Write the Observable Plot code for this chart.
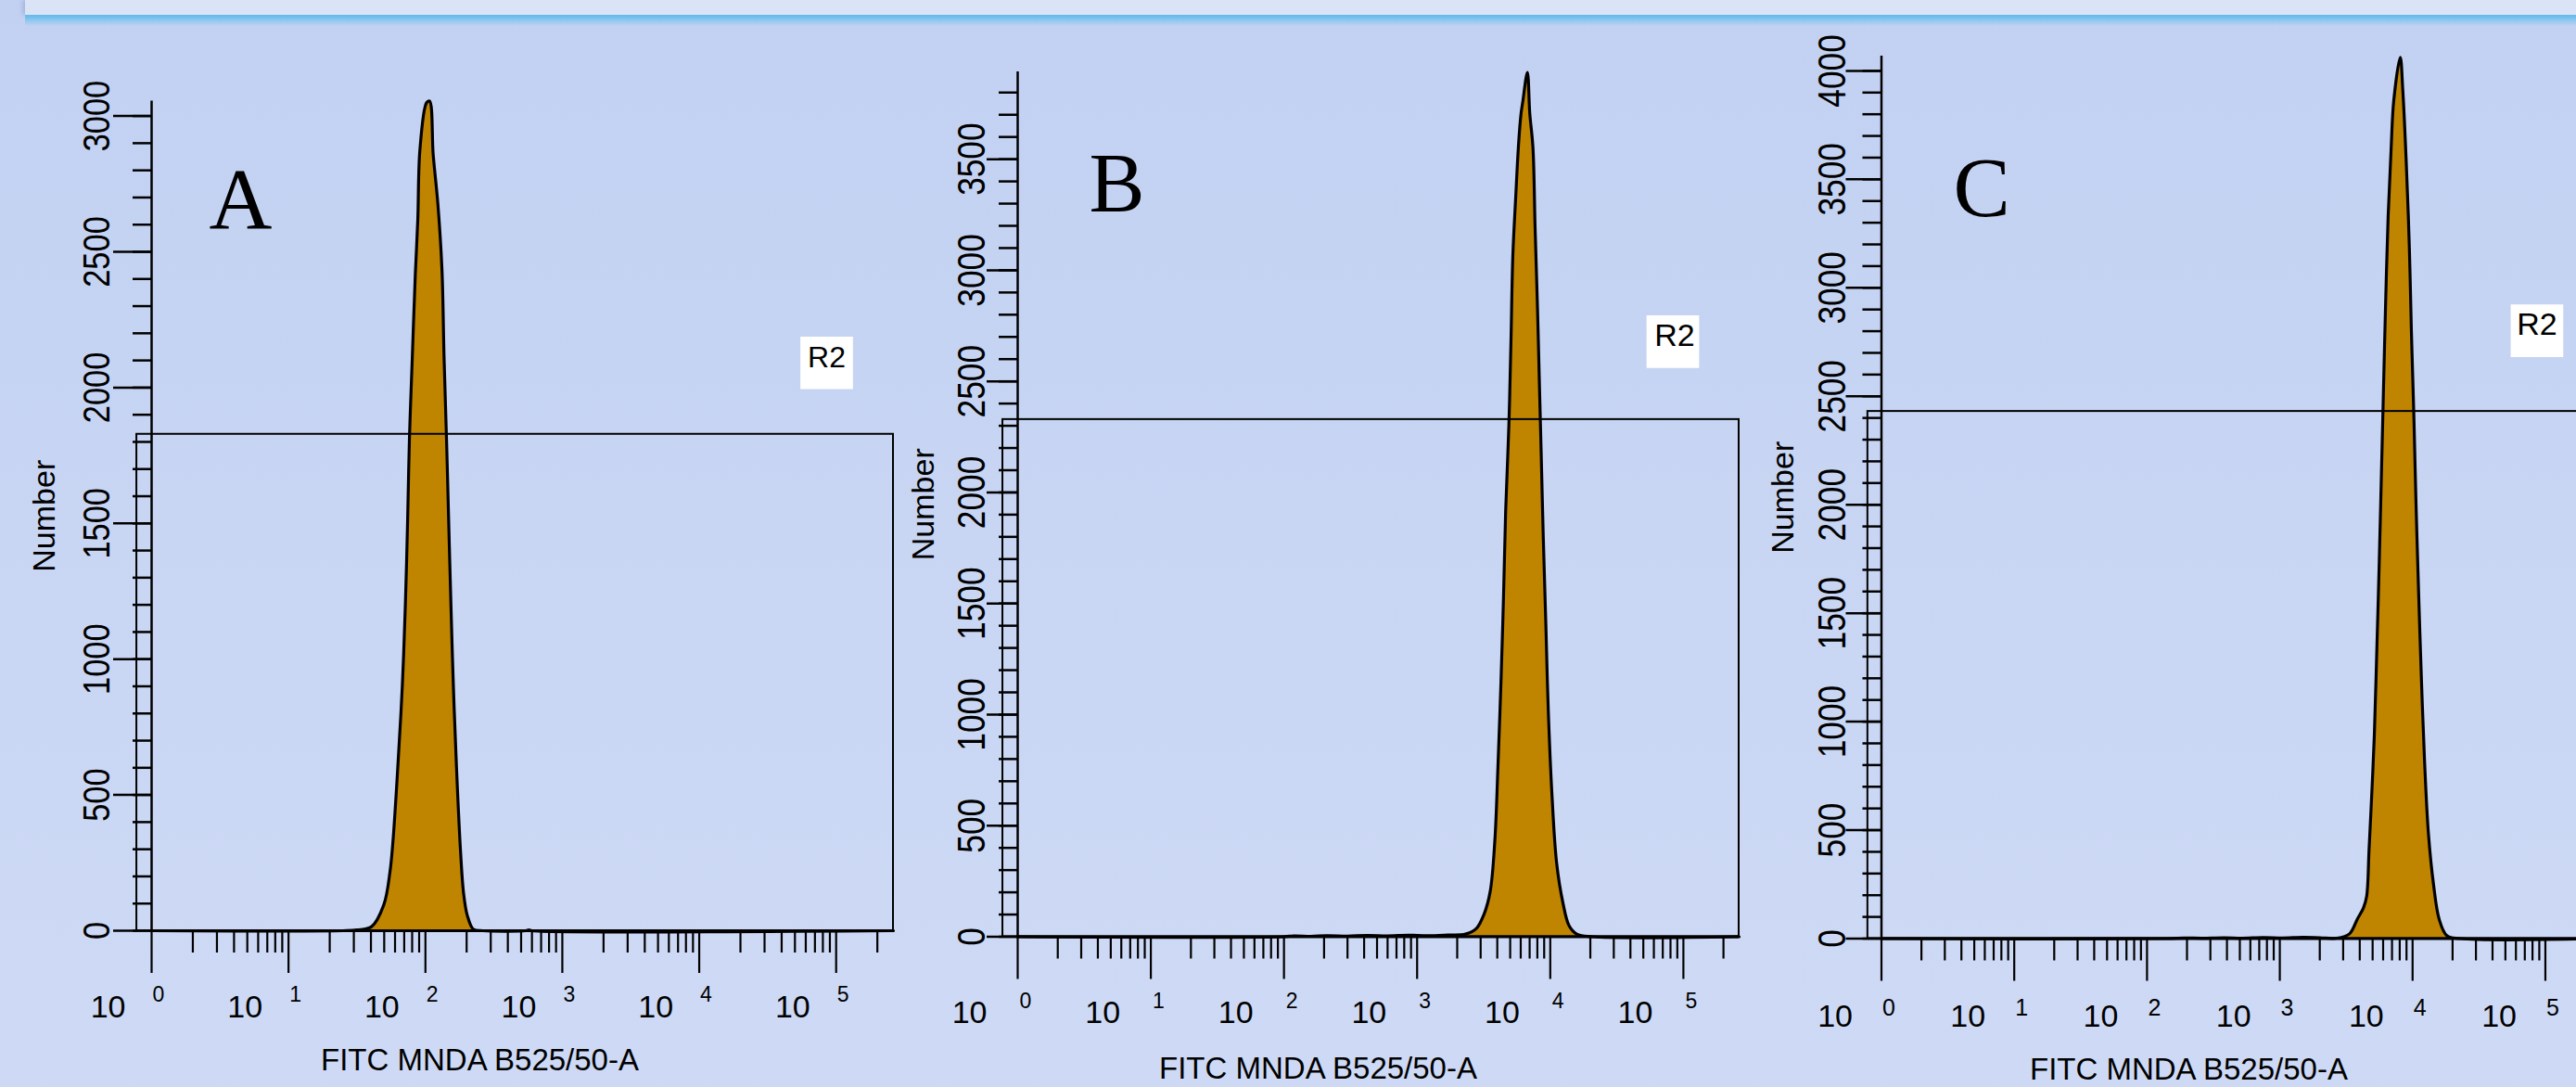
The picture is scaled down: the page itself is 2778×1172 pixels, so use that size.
<!DOCTYPE html>
<html><head><meta charset="utf-8">
<script src="https://cdn.jsdelivr.net/npm/d3@7"></script>
<script src="https://cdn.jsdelivr.net/npm/@observablehq/plot@0.6"></script>
<style>
html,body{margin:0;padding:0;}
body{width:2778px;height:1172px;overflow:hidden;background:linear-gradient(#c2d1f2,#cedaf5);font-family:"Liberation Sans",Arial,sans-serif;}
#stage{position:relative;width:2778px;height:1172px;overflow:hidden;}
#band{position:absolute;left:27px;top:0;right:0;height:16px;background:#dbe3f6;box-shadow:-3px 0 4px rgba(120,140,190,0.35);}
#glow{position:absolute;left:27px;top:16px;right:0;height:12px;background:linear-gradient(#5fbbec,rgba(95,187,236,0));}
</style></head><body><div id="stage"><div id="band"></div><div id="glow"></div></div>
<script>
// ---- text ----
const xTitle = "FITC MNDA B525/50-A";
const yTitle = "Number";
const panelLetters = ["A", "B", "C"];
const gateName = "R2";

// ---- axes ----
const xMax = 262144;
const xDecades = [1, 10, 100, 1000, 10000, 100000];
const xExponents = ["0", "1", "2", "3", "4", "5"];
const yMaxes = [3055, 3893, 4068];

// ---- gates (R2) ----
const gateLeft = [0.78, 0.774, 0.79];
const gateTop = [1828, 2328, 2430];

// ---- histogram A ----
const intensityA = [1, 25, 31.6, 40.4, 49.7, 55.1, 58.1, 62.8, 67.8, 71.4, 74.1, 76.4, 80.2, 84.3, 87.9, 91.2, 101.9, 107.2, 114, 123.3, 132.1, 136.8, 142.6, 147.9, 153.5, 160, 168.7, 180.3, 190.1, 202.3, 224.4, 263, 540, 570, 600, 262144];
const countA = [0, 0, 3, 15, 96, 217, 338, 600, 902, 1204, 1507, 1809, 2111, 2414, 2615, 2877, 3049, 3055, 2857, 2676, 2434, 2111, 1809, 1507, 1204, 902, 600, 297, 137, 56, 5, 0, 0, 3, 0, 0];

// ---- histogram B ----
const intensityB = [1, 100, 118, 160, 210, 300, 420, 600, 850, 1200, 1700, 2307, 2786, 3184, 3540, 3837, 4046, 4266, 4457, 4624, 4887, 5070, 5236, 5495, 5794, 6039, 6209, 6730, 7015, 7413, 7691, 8035, 8337, 8551, 8872, 9268, 9661, 10300, 11170, 12450, 13840, 15810, 20650, 262144];
const countB = [0, 0, 4, 2, 5, 3, 6, 4, 7, 5, 8, 12, 37, 102, 204, 435, 766, 1150, 1533, 1916, 2300, 2684, 3067, 3323, 3577, 3707, 3756, 3890, 3707, 3552, 3195, 2811, 2428, 2172, 1789, 1405, 1022, 639, 331, 153, 50, 12, 0, 0];

// ---- histogram C ----
const intensityC = [1, 140, 190, 260, 380, 520, 750, 1050, 1500, 2000, 2704, 3350, 3837, 4266, 4508, 4699, 4932, 5152, 5383, 5610, 5821, 6039, 6266, 6546, 6902, 7211, 8072, 8433, 8933, 9441, 9795, 10233, 10617, 11092, 11641, 12331, 13152, 14388, 15849, 18113, 22961, 262144];
const countC = [0, 0, 3, 2, 4, 2, 5, 3, 6, 4, 2, 22, 90, 142, 195, 408, 673, 939, 1338, 1736, 2135, 2534, 2932, 3331, 3650, 3862, 4062, 3915, 3597, 3198, 2799, 2401, 2002, 1603, 1205, 806, 487, 248, 90, 14, 0, 0];

const series = [[intensityA, countA], [intensityB, countB], [intensityC, countC]];

// ---- layout (pixels) ----
const layouts = [
  {left: 0, width: 1000, ml: 163, mr: 37, mt: 108.5, mb: 169,
   yTick: 41, yPad: 5, yFs: 40, ySc: 0.86, numDx: -105,
   letDx: 62, letDy: 136.5, letFs: 94,
   tenDx: -28, tenDy: 93, expDx: 1, expDy: 76, expFs: 23,
   titDx: -46, titDy: 150, boxDx: -72, boxDy: -77, r2Dx: -76.5, r2Dy: -72, r2Fs: 32},
  {left: 960, width: 960, ml: 137, mr: 45, mt: 77, mb: 162.5,
   yTick: 33, yPad: 3, yFs: 42, ySc: 0.84, numDx: -91,
   letDx: 77, letDy: 150, letFs: 90,
   tenDx: -33, tenDy: 93, expDx: 2, expDy: 77, expFs: 23,
   titDx: -65, titDy: 153, boxDx: -71.5, boxDy: -84, r2Dx: -74, r2Dy: -79, r2Fs: 34},
  {left: 1890, width: 960, ml: 138.5, mr: 45.6, mt: 60, mb: 160.5,
   yTick: 38, yPad: 1, yFs: 42, ySc: 0.84, numDx: -95,
   letDx: 77.5, letDy: 172, letFs: 92,
   tenDx: -31, tenDy: 95, expDx: 1, expDy: 83, expFs: 25,
   titDx: -56.5, titDy: 152, boxDx: -69, boxDy: -87, r2Dx: -73.5, r2Dy: -83, r2Fs: 34}
];

const stage = document.getElementById("stage");
const xMinor = xDecades.flatMap(d => d3.range(2, 10).map(k => k * d)).filter(v => v <= xMax);

layouts.forEach((L, i) => {
  const data = series[i][0].map((x, j) => ({x, y: series[i][1][j]}));
  const yMax = yMaxes[i];
  const yMajor = d3.range(0, yMax + 1, 500);
  const yMinor = d3.range(0, yMax + 1, 100);
  const gate = [{x1: gateLeft[i], x2: xMax, y1: 0, y2: gateTop[i]}];
  const decades = xDecades.map((d, k) => ({x: d, e: xExponents[k]}));

  const chart = Plot.plot({
    width: L.width, height: 1172,
    marginLeft: L.ml, marginRight: L.mr, marginTop: L.mt, marginBottom: L.mb,
    style: {background: "transparent", overflow: "visible", fontFamily: "'Liberation Sans', Arial, sans-serif", color: "black"},
    x: {type: "log", domain: [1, xMax], axis: null},
    y: {domain: [0, yMax], axis: null},
    marks: [
      Plot.areaY(data, {x: "x", y: "y", fill: "#c08500", curve: "catmull-rom"}),
      Plot.lineY(data, {x: "x", y: "y", stroke: "black", strokeWidth: 3.2, strokeLinejoin: "round", curve: "catmull-rom"}),
      Plot.rect(gate, {x1: "x1", x2: "x2", y1: "y1", y2: "y2", fill: "none", stroke: "black", strokeWidth: 2}),
      Plot.ruleX([1], {y1: 0, y2: yMax, stroke: "black", strokeWidth: 2.5}),
      Plot.ruleY([0], {x1: 1, x2: xMax, stroke: "black", strokeWidth: 3}),
      Plot.axisY(yMajor, {anchor: "left", tickSize: L.yTick, tickPadding: L.yPad, tickRotate: -90, fontSize: L.yFs, strokeWidth: 2.5, tickFormat: d => String(d), label: null}),
      Plot.axisY(yMinor, {anchor: "left", tickSize: 20, strokeWidth: 2.5, tickFormat: () => "", label: null}),
      Plot.axisX(xDecades, {anchor: "bottom", tickSize: 46, strokeWidth: 2.2, tickFormat: () => "", label: null}),
      Plot.axisX(xMinor, {anchor: "bottom", tickSize: 24, strokeWidth: 2.2, tickFormat: () => "", label: null}),
      Plot.text(decades, {x: "x", frameAnchor: "bottom", text: () => "10", textAnchor: "end", lineAnchor: "bottom", dx: L.tenDx, dy: L.tenDy, fontSize: 34, ariaLabel: "x-ten"}),
      Plot.text(decades, {x: "x", frameAnchor: "bottom", text: "e", textAnchor: "start", lineAnchor: "bottom", dx: L.expDx, dy: L.expDy, fontSize: L.expFs}),
      Plot.text([xTitle], {frameAnchor: "bottom", lineAnchor: "bottom", dx: L.titDx, dy: L.titDy, fontSize: 33}),
      Plot.text([yTitle], {frameAnchor: "left", rotate: -90, textAnchor: "middle", lineAnchor: "bottom", dx: L.numDx, fontSize: 34}),
      Plot.text([panelLetters[i]], {frameAnchor: "top-left", textAnchor: "start", lineAnchor: "bottom", dx: L.letDx, dy: L.letDy, fontSize: L.letFs, fontFamily: "'Liberation Serif', 'Times New Roman', serif"}),
      Plot.dot(gate, {x: "x2", y: "y2", symbol: "square", r: 32, fill: "white", stroke: "none", dx: L.boxDx, dy: L.boxDy}),
      Plot.text(gate, {x: "x2", y: "y2", text: () => gateName, textAnchor: "middle", lineAnchor: "bottom", dx: L.r2Dx + 4.5, dy: L.r2Dy, fontSize: L.r2Fs})
    ]
  });
  chart.style.position = "absolute";
  chart.style.left = L.left + "px";
  chart.style.top = "0px";
  chart.style.maxWidth = "none";
  // condensed tick-label lettering
  chart.querySelectorAll('g[aria-label="y-axis tick label"] text').forEach(t => {
    t.setAttribute("transform", (t.getAttribute("transform") || "") + ` scale(${L.ySc},1)`);
  });
  chart.querySelectorAll('g[aria-label="x-ten"] text').forEach(t => {
    t.setAttribute("transform", (t.getAttribute("transform") || "") + " scale(0.92,1)");
  });
  stage.appendChild(chart);
});
</script></body></html>
